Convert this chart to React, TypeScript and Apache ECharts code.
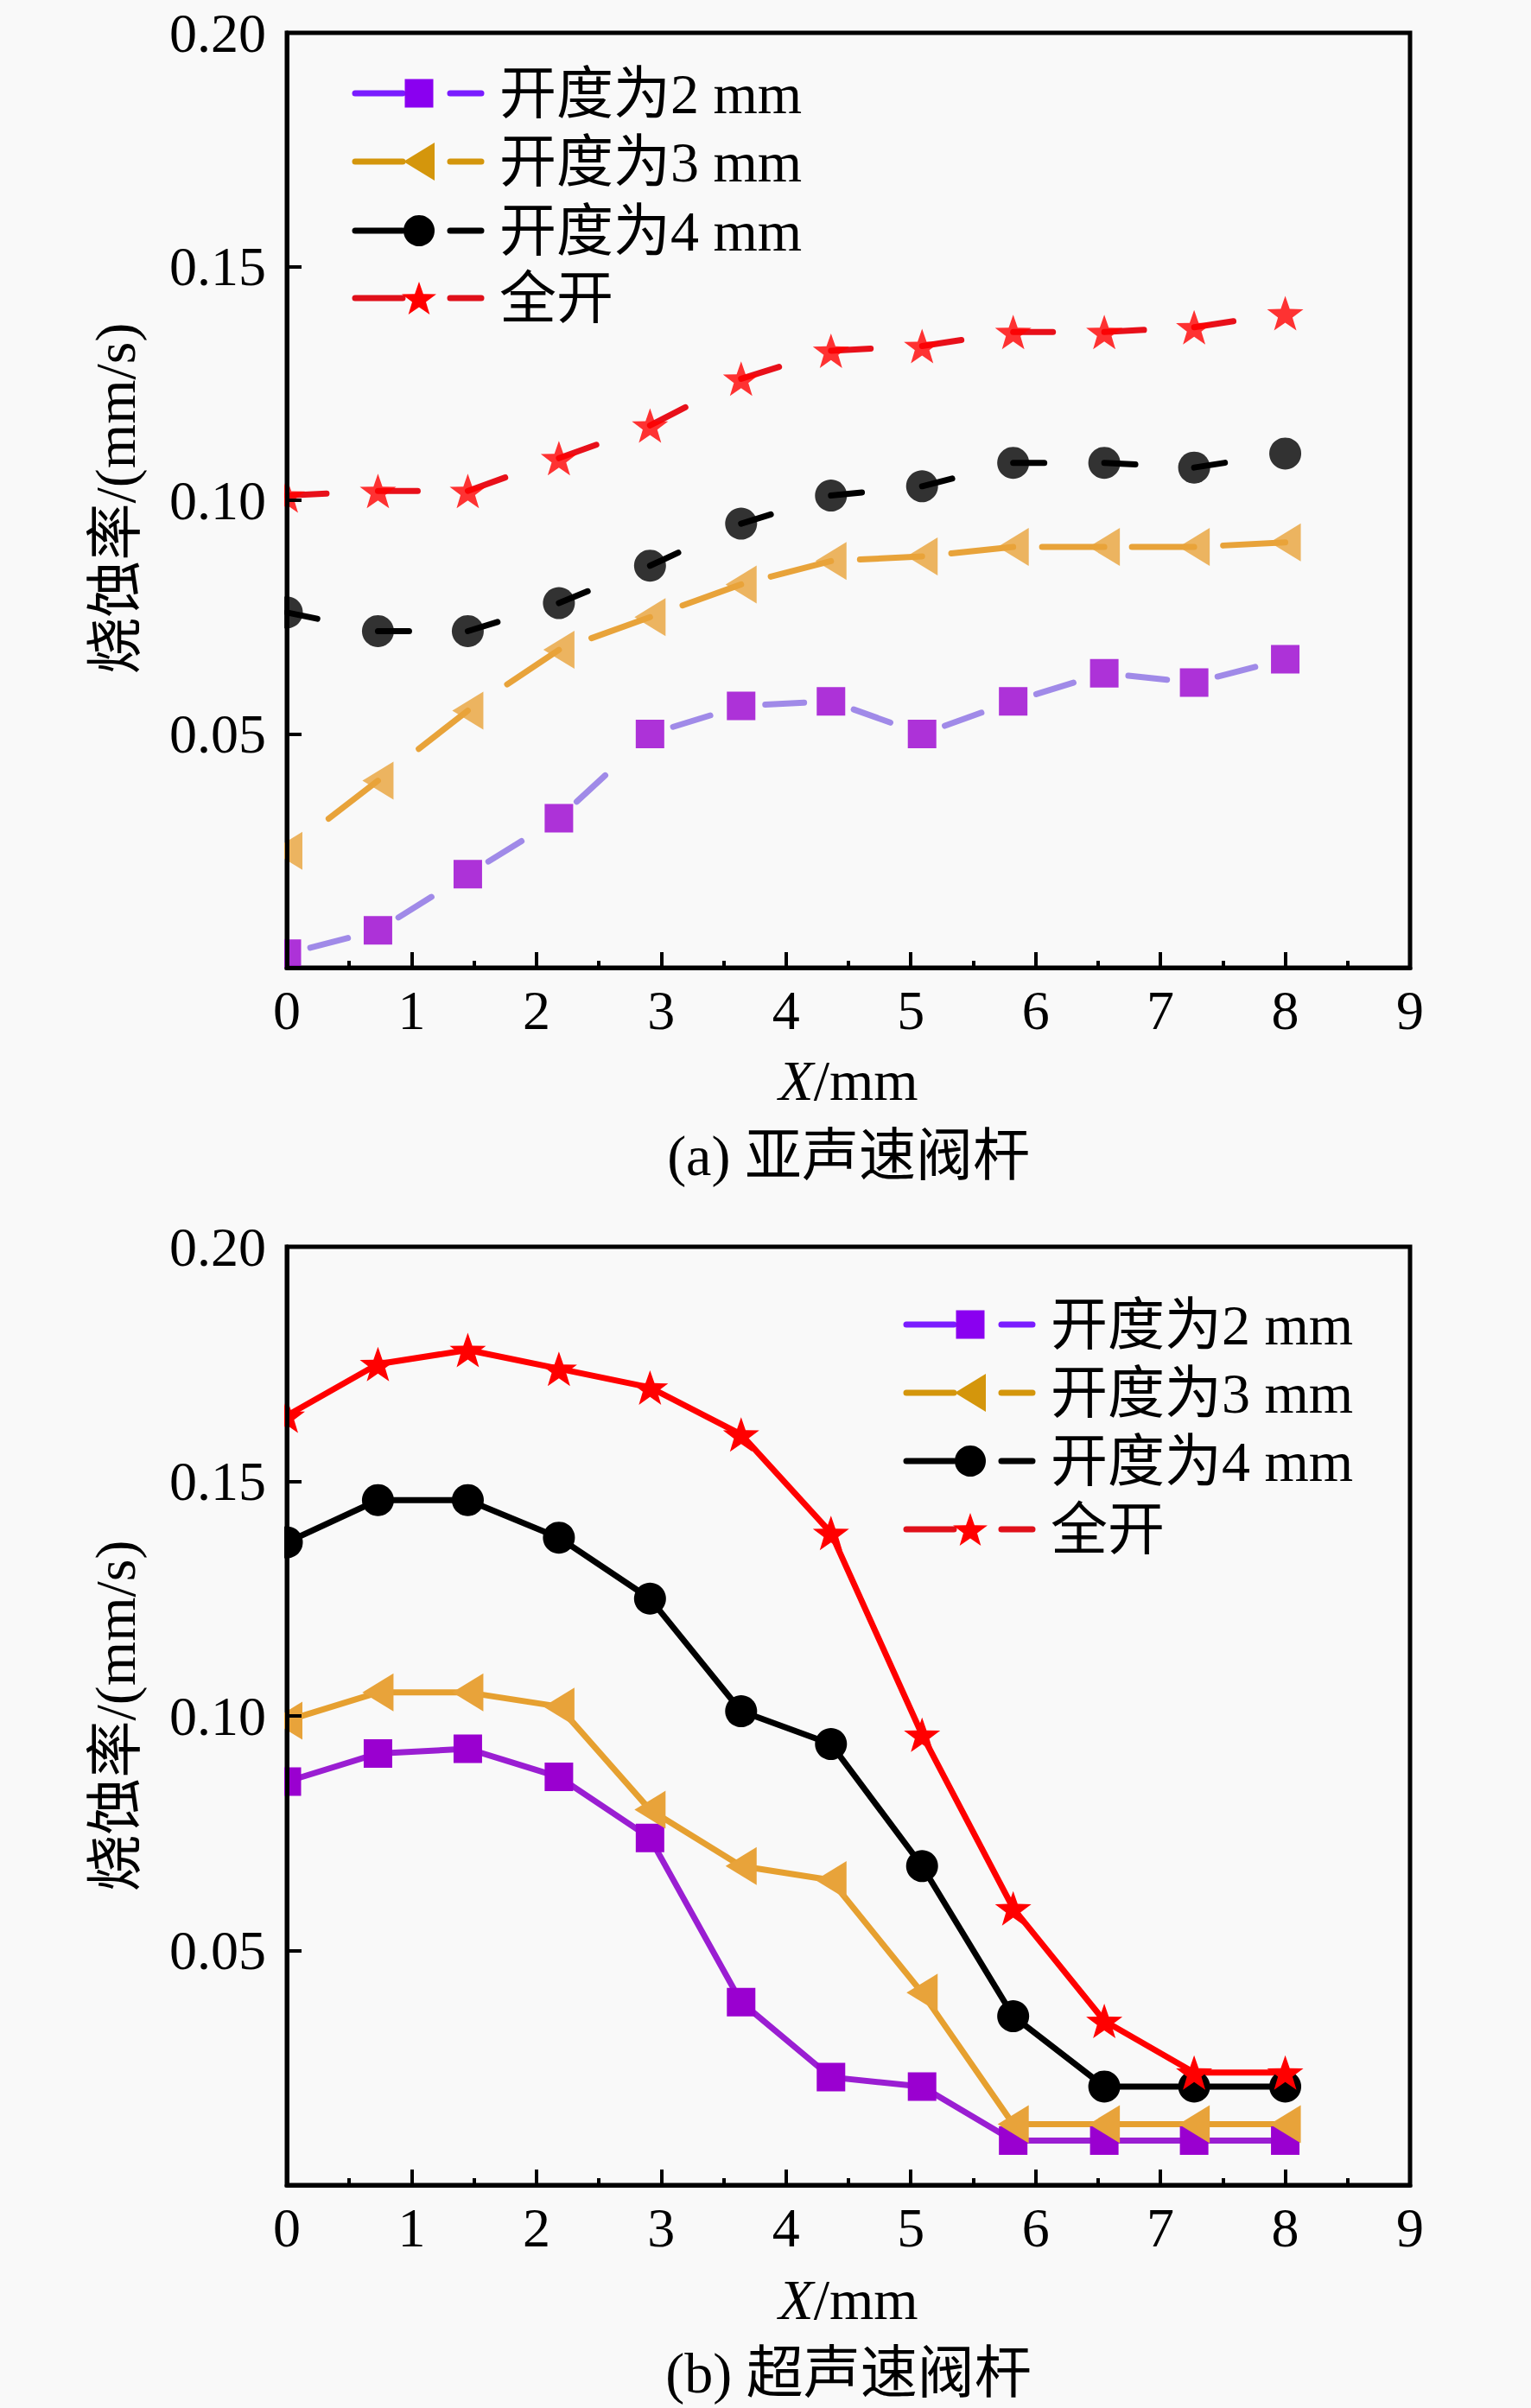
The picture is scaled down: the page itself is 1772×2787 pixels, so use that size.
import React, { useEffect, useRef } from "react";
import * as echarts from "echarts";

// ---------- data ----------
const X_POS = [0, 0.73, 1.45, 2.18, 2.91, 3.64, 4.36, 5.09, 5.82, 6.55, 7.27, 8];

// (a) subsonic valve stem
const A_OPEN2 = [0.003, 0.008, 0.020, 0.032, 0.050, 0.056, 0.057, 0.050, 0.057, 0.063, 0.061, 0.066];
const A_OPEN3 = [0.025, 0.040, 0.055, 0.068, 0.075, 0.082, 0.087, 0.088, 0.090, 0.090, 0.090, 0.091];
const A_OPEN4 = [0.076, 0.072, 0.072, 0.078, 0.086, 0.095, 0.101, 0.103, 0.108, 0.108, 0.107, 0.110];
const A_FULL = [0.101, 0.102, 0.102, 0.109, 0.116, 0.126, 0.132, 0.133, 0.136, 0.136, 0.137, 0.140];

// (b) supersonic valve stem
const B_OPEN2 = [0.086, 0.092, 0.093, 0.087, 0.074, 0.039, 0.023, 0.021, 0.0095, 0.0095, 0.0095, 0.0095];
const B_OPEN3 = [0.099, 0.105, 0.105, 0.102, 0.080, 0.068, 0.065, 0.041, 0.013, 0.013, 0.013, 0.013];
const B_OPEN4 = [0.137, 0.146, 0.146, 0.138, 0.125, 0.101, 0.094, 0.068, 0.036, 0.021, 0.021, 0.021];
const B_FULL = [0.164, 0.175, 0.178, 0.174, 0.170, 0.160, 0.139, 0.096, 0.059, 0.035, 0.024, 0.024];

const LEGEND_LABELS = ["开度为2 mm", "开度为3 mm", "开度为4 mm", "全开"];
const Y_TITLE = "烧蚀率/(mm/s)";
const CAPTION_A = "(a) 亚声速阀杆";
const CAPTION_B = "(b) 超声速阀杆";

// ---------- styles ----------
const FONT = "'Liberation Serif', 'Times New Roman', 'Noto Sans CJK SC', serif";
const BG = "#f9f9f9";
const MARKER_COLORS = ["#9a00d0", "#e8a33a", "#000000", "#ff0000"];
const TOP_LINE_COLORS = ["#a08ae8", "#e8a33a", "#000000", "#e8101a"];
const BOT_LINE_COLORS = ["#9a1ed2", "#e6a030", "#000000", "#ff0000"];
const LEGEND_LINE_COLORS = ["#7a1cff", "#d4960c", "#000000", "#e0101a"];

function starPoints(cx: number, cy: number, r: number): number[][] {
  const pts: number[][] = [];
  for (let k = 0; k < 10; k++) {
    const a = (-90 + k * 36) * Math.PI / 180;
    const rr = k % 2 === 0 ? r : r * 0.4;
    pts.push([cx + rr * Math.cos(a), cy + rr * Math.sin(a)]);
  }
  return pts;
}
const STAR_PATH = "path://M" + starPoints(100, 100, 100).map((p) => p[0].toFixed(2) + "," + p[1].toFixed(2)).join("L") + "Z";
const TRI_PATH = "path://M0,22L36,0L36,44Z";

const SYMBOLS: any[] = ["rect", TRI_PATH, "circle", STAR_PATH];
const SYMBOL_SIZES: any[] = [33, [36, 44], 37, [42, 40]];

// per-series dash settings for top chart (reverse: dash ends at next point)
const TOP_DASH = [
  { dash: 45, offset: 617, reverse: false },
  { dash: 72, offset: 0, reverse: true },
  { dash: 36, offset: 0, reverse: false },
  { dash: 46, offset: 0, reverse: false },
];

function App() {
  const ref = useRef<HTMLDivElement>(null);
  useEffect(() => {
    document.body.style.margin = "0";
    document.body.style.background = BG;
    if (!ref.current) return;
    const chart = echarts.init(ref.current, null, { renderer: "svg" });

    const topData = [A_OPEN2, A_OPEN3, A_OPEN4, A_FULL];
    const botData = [B_OPEN2, B_OPEN3, B_OPEN4, B_FULL];

    const series: any[] = [];
    topData.forEach((vals, s) => {
      const cfg = TOP_DASH[s];
      for (let i = 0; i < X_POS.length - 1; i++) {
        const a = [X_POS[i], vals[i]];
        const b = [X_POS[i + 1], vals[i + 1]];
        series.push({
          type: "line",
          xAxisIndex: 0,
          yAxisIndex: 0,
          data: cfg.reverse ? [b, a] : [a, b],
          symbol: "none",
          silent: true,
          z: 2,
          lineStyle: {
            color: TOP_LINE_COLORS[s],
            width: 7,
            type: [cfg.dash, 600],
            dashOffset: cfg.offset,
            cap: "round",
          },
        });
      }
      series.push({
        type: "scatter",
        xAxisIndex: 0,
        yAxisIndex: 0,
        data: X_POS.map((x, i) => [x, vals[i]]),
        symbol: SYMBOLS[s],
        symbolSize: SYMBOL_SIZES[s],
        itemStyle: { color: MARKER_COLORS[s] },
        silent: true,
        z: 3,
      });
    });
    botData.forEach((vals, s) => {
      series.push({
        type: "line",
        xAxisIndex: 1,
        yAxisIndex: 1,
        data: X_POS.map((x, i) => [x, vals[i]]),
        symbol: SYMBOLS[s],
        symbolSize: SYMBOL_SIZES[s],
        showAllSymbol: true,
        itemStyle: { color: MARKER_COLORS[s] },
        lineStyle: { color: BOT_LINE_COLORS[s], width: 7 },
        silent: true,
        z: 3,
      });
    });

    const xAxisBase = {
      type: "value",
      min: 0,
      max: 9,
      interval: 1,
      z: 10,
      axisLine: { show: true, onZero: false, lineStyle: { color: "#000", width: 5 } },
      axisTick: { show: true, inside: true, length: 18, lineStyle: { color: "#000", width: 4 } },
      minorTick: { show: true, splitNumber: 2, length: 8, lineStyle: { color: "#000", width: 4 } },
      splitLine: { show: false },
      axisLabel: { color: "#000", fontSize: 64, fontFamily: FONT, margin: 24, lineHeight: 50 },
    };
    const yAxisBase = {
      type: "value",
      min: 0,
      max: 0.2,
      interval: 0.05,
      z: 10,
      axisLine: { show: true, onZero: false, lineStyle: { color: "#000", width: 5 } },
      axisTick: { show: true, inside: true, length: 17, lineStyle: { color: "#000", width: 4 } },
      splitLine: { show: false },
      axisLabel: {
        color: "#000",
        fontSize: 64,
        fontFamily: FONT,
        margin: 24,
        lineHeight: 50,
        formatter: (v: number) => (v === 0 ? "" : v.toFixed(2)),
      },
    };

    const legendItems = (x0: number, ys: number[]) => {
      const els: any[] = [];
      ys.forEach((y, s) => {
        const lc = LEGEND_LINE_COLORS[s];
        const cx = x0 + 74;
        els.push({ type: "line", z: 30, shape: { x1: x0, y1: y, x2: x0 + 55, y2: y }, style: { stroke: lc, lineWidth: 7, lineCap: "round" } });
        els.push({ type: "line", z: 30, shape: { x1: x0 + 110, y1: y, x2: x0 + 146, y2: y }, style: { stroke: lc, lineWidth: 7, lineCap: "round" } });
        if (s === 0) {
          els.push({ type: "rect", z: 31, shape: { x: cx - 16.5, y: y - 16.5, width: 33, height: 33 }, style: { fill: "#8a00f0" } });
        } else if (s === 1) {
          els.push({ type: "polygon", z: 31, shape: { points: [[cx - 18, y], [cx + 18, y - 22], [cx + 18, y + 22]] }, style: { fill: "#d4960c" } });
        } else if (s === 2) {
          els.push({ type: "circle", z: 31, shape: { cx, cy: y, r: 18 }, style: { fill: "#000" } });
        } else {
          els.push({ type: "polygon", z: 31, shape: { points: starPoints(cx, y + 2, 21) }, style: { fill: "#ff0000" } });
        }
        els.push({
          type: "text",
          z: 31,
          x: x0 + 167,
          y,
          style: { text: LEGEND_LABELS[s], fontSize: 66, fontFamily: FONT, fill: "#000", align: "left", verticalAlign: "middle" },
        });
      });
      return els;
    };

    const textEl = (x: number, y: number, text: string, extra: any = {}) => ({
      type: "text",
      z: 31,
      x,
      y,
      ...extra,
      style: { text, fontSize: 66, fontFamily: FONT, fill: "#000", align: "center", verticalAlign: "middle", ...(extra.style || {}) },
    });

    const xTitle = (y: number) => ({
      type: "text",
      z: 31,
      x: 982,
      y,
      style: {
        text: "{i|X}/mm",
        fontSize: 66,
        fontFamily: FONT,
        fill: "#000",
        align: "center",
        verticalAlign: "middle",
        rich: { i: { fontStyle: "italic", fontSize: 66, fontFamily: FONT, fill: "#000" } },
      },
    });

    const option: any = {
      animation: false,
      backgroundColor: BG,
      grid: [
        { left: 332, top: 38, width: 1300, height: 1082, show: true, borderColor: "#000", borderWidth: 5, backgroundColor: "transparent", containLabel: false },
        { left: 332, top: 1443, width: 1300, height: 1086, show: true, borderColor: "#000", borderWidth: 5, backgroundColor: "transparent", containLabel: false },
      ],
      xAxis: [
        { ...xAxisBase, gridIndex: 0 },
        { ...xAxisBase, gridIndex: 1 },
      ],
      yAxis: [
        { ...yAxisBase, gridIndex: 0 },
        { ...yAxisBase, gridIndex: 1 },
      ],
      series,
      graphic: {
        elements: [
          { type: "rect", z: 5, silent: true, shape: { x: 0, y: 0, width: 329, height: 2787 }, style: { fill: BG } },
          textEl(133, 577, Y_TITLE, { rotation: Math.PI / 2 }),
          textEl(133, 1986, Y_TITLE, { rotation: Math.PI / 2 }),
          xTitle(1250),
          xTitle(2661),
          textEl(982, 1337, CAPTION_A),
          textEl(982, 2746, CAPTION_B),
          ...legendItems(411, [108, 187, 267, 345]),
          ...legendItems(1049, [1533, 1612, 1691, 1770]),
        ],
      },
    };
    chart.setOption(option);
    return () => chart.dispose();
  }, []);
  return <div ref={ref} style={{ width: 1772, height: 2787 }} />;
}

export default App;
